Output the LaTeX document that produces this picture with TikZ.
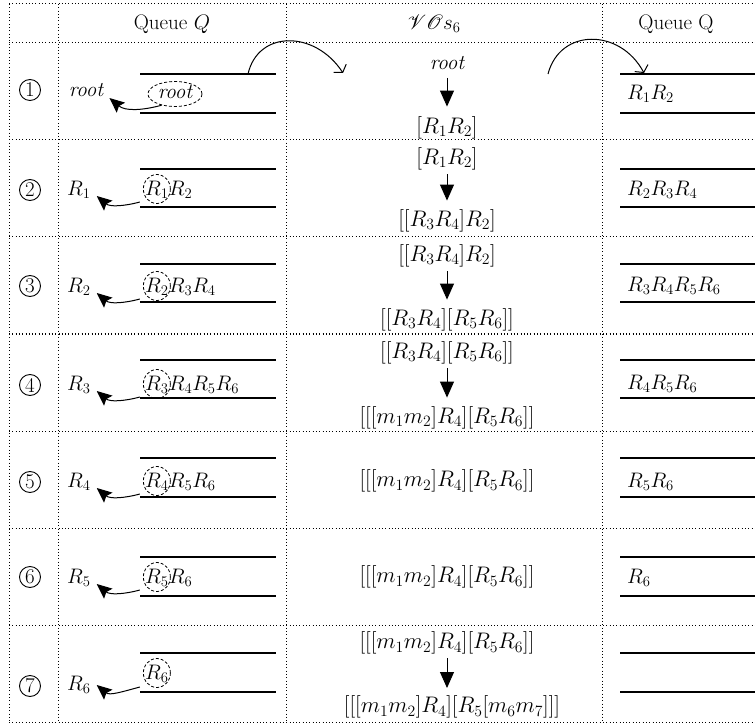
\RequirePackage{fix-cm}
\documentclass[tikz,border=0pt]{standalone}
\IfFileExists{mathrsfs.sty}{\usepackage{mathrsfs}}{\providecommand\mathscr{\mathcal}}
\usetikzlibrary{arrows.meta,calc,shapes.geometric}
\newcommand\myfs{\fontsize{21}{25}\selectfont}
\newcommand\mybfs{\fontsize{22.5}{26}\selectfont}
\begin{document}
\begin{tikzpicture}[x=1pt,y=-1pt,
  gridline/.style={line width=1pt, dash pattern=on 1pt off 2.3pt},
  qline/.style={line width=1.4pt},
  txt/.style={inner sep=0pt, font=\myfs},
  ctxt/.style={inner sep=0pt, font=\mybfs},
  itxt/.style={inner sep=0pt, font=\myfs\itshape},
  num/.style={circle, draw, line width=0.9pt, minimum size=21pt, inner sep=0pt, font=\myfs},
  dcirc/.style={ellipse, draw, line width=0.8pt, dash pattern=on 3pt off 2pt, inner sep=0pt},
  varrow/.style={line width=1pt, -{Triangle[length=16pt,width=14pt]}, shorten <=4pt, shorten >=9pt},
  outarrow/.style={line width=1pt, -{Stealth[length=15pt,width=13pt,inset=2.5pt]}},
  bigarc/.style={line width=1pt, -{Straight Barb[length=5pt,width=15pt]}}]
\useasboundingbox (0,0) rectangle (755,727);
% grid
\foreach \y in {4,43,140,237,334,431,528,625,722} \draw[gridline] (9,\y) -- (755,\y);
\foreach \x in {9,58,286,602} \draw[gridline] (\x,4) -- (\x,722);
% header
\node[txt] (h1) at (172,24) {Queue $Q$};
\node[txt] (h2) at (434,24) {$\mathscr{V}\mathscr{O}s_6$};
\node[txt] (h3) at (676,24) {Queue Q};
% queue lines
\foreach \ya/\yb in {74/113,169/207,264/302,360/398,458/497,557/596,653/692}{
  \draw[qline] (140,\ya) -- (276,\ya);
  \draw[qline] (140,\yb) -- (276,\yb);
  \draw[qline] (620,\ya) -- (755,\ya);
  \draw[qline] (620,\yb) -- (755,\yb);
}
% row numbers
\node[num] (n1) at (30,90) {1};
\node[num] (n2) at (30,190) {2};
\node[num] (n3) at (30,286) {3};
\node[num] (n4) at (30,385) {4};
\node[num] (n5) at (30,482) {5};
\node[num] (n6) at (30,577) {6};
\node[num] (n7) at (30,686) {7};
% row 1 left
\node[itxt] (a1) at (175,92) {root};
\node[dcirc, minimum width=54pt, minimum height=25pt] (e1) at (175,94) {};
\node[itxt] (o1) at (86,90) {root};
\draw[outarrow] (e1.220) to[out=195,in=-40] ($(o1.east)+(6,8)$);
% rows 2-7 left
\node[txt,anchor=west] (a2) at (145,190) {$R_1$};
\node[txt,anchor=base west] (b2) at (a2.base east) {$R_2$};
\node[txt,anchor=west] (a3) at (145,287) {$R_2$};
\node[txt,anchor=base west] (b3) at (a3.base east) {$R_3R_4$};
\node[txt,anchor=west] (a4) at (145,385) {$R_3$};
\node[txt,anchor=base west] (b4) at (a4.base east) {$R_4R_5R_6$};
\node[txt,anchor=west] (a5) at (145,482) {$R_4$};
\node[txt,anchor=base west] (b5) at (a5.base east) {$R_5R_6$};
\node[txt,anchor=west] (a6) at (145,578) {$R_5$};
\node[txt,anchor=base west] (b6) at (a6.base east) {$R_6$};
\node[txt,anchor=west] (a7) at (145,674) {$R_6$};
\foreach \k in {2,...,7}{
  \node[dcirc, minimum width=27pt, minimum height=29pt] (e\k) at ($(a\k.center)+(0,-1)$) {};
}
\node[txt,anchor=west] (o2) at (67,190) {$R_1$};
\node[txt,anchor=west] (o3) at (67,287) {$R_2$};
\node[txt,anchor=west] (o4) at (67,385) {$R_3$};
\node[txt,anchor=west] (o5) at (67,482) {$R_4$};
\node[txt,anchor=west] (o6) at (67,578) {$R_5$};
\node[txt,anchor=west] (o7) at (67,685) {$R_6$};
\foreach \k in {2,...,6}{
  \draw[outarrow] ($(e\k.center)+(-17,13)$) to[out=195,in=-40] ($(o\k.east)+(6,6)$);
}
\draw[outarrow] ($(e7.center)+(-17,14)$) to[out=195,in=-40] ($(o7.east)+(6,0)$);
% center column
\node[itxt] (t1) at (447,63) {root};
\node[ctxt] (u1) at (447,128) {$[R_1R_2]$};
\draw[varrow, shorten <=8pt, shorten >=10pt] (t1.south) -- (u1.north);
\node[ctxt] (t2) at (447,159) {$[R_1R_2]$};
\node[ctxt] (u2) at (447,221) {$[[R_3R_4]R_2]$};
\draw[varrow] (t2.south) -- (u2.north);
\node[ctxt] (t3) at (447,256) {$[[R_3R_4]R_2]$};
\node[ctxt] (u3) at (447,320) {$[[R_3R_4][R_5R_6]]$};
\draw[varrow] (t3.south) -- (u3.north);
\node[ctxt] (t4) at (447,353) {$[[R_3R_4][R_5R_6]]$};
\node[ctxt] (u4) at (447,418) {$[[[m_1m_2]R_4][R_5R_6]]$};
\draw[varrow] (t4.south) -- (u4.north);
\node[ctxt] (c5) at (447,481) {$[[[m_1m_2]R_4][R_5R_6]]$};
\node[ctxt] (c6) at (447,577) {$[[[m_1m_2]R_4][R_5R_6]]$};
\node[ctxt] (t7) at (447,643) {$[[[m_1m_2]R_4][R_5R_6]]$};
\node[ctxt] (u7) at (452,707) {$[[[m_1m_2]R_4][R_5[m_6m_7]]]$};
\coordinate (u7top) at (447,707);
\draw[varrow, shorten >=19pt] (t7.south) -- (u7top);
% right column
\node[txt,anchor=west] (r1) at (627,94) {$R_1R_2$};
\node[txt,anchor=west] (r2) at (627,190) {$R_2R_3R_4$};
\node[txt,anchor=west] (r3) at (627,286) {$R_3R_4R_5R_6$};
\node[txt,anchor=west] (r4) at (627,384) {$R_4R_5R_6$};
\node[txt,anchor=west] (r5) at (627,482) {$R_5R_6$};
\node[txt,anchor=west] (r6) at (627,578) {$R_6$};
% big arcs
\coordinate (arcAs) at (248,74);
\coordinate (arcAe) at (343,73);
\coordinate (arcBs) at (548,74);
\coordinate (arcBe) at (644,73);
\draw[bigarc] (arcAs) .. controls +(10,-44) and +(-28,-43) .. (arcAe);
\draw[bigarc] (arcBs) .. controls +(12,-46) and +(-24,-45) .. (arcBe);
\end{tikzpicture}
\end{document}
